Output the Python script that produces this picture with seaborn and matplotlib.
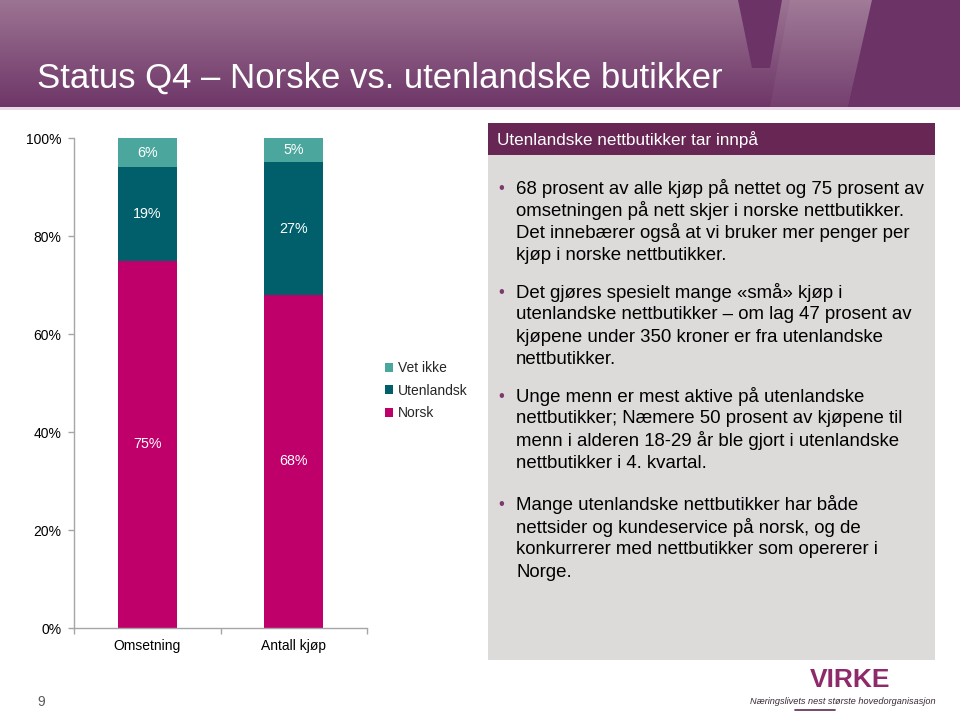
import matplotlib
matplotlib.use("Agg")
import matplotlib.pyplot as plt
import numpy as np
import pandas as pd
import seaborn as sns
from matplotlib.patches import Rectangle, Polygon

sns.set_theme(style="white")
plt.rcParams['font.family'] = ['Liberation Sans', 'DejaVu Sans']

# ---- data ----
categories = ["Omsetning", "Antall kjøp"]
norsk = [75, 68]
utenlandsk = [19, 27]
vet_ikke = [6, 5]
series_names = ["Norsk", "Utenlandsk", "Vet ikke"]
series_colors = ["#C0006A", "#005F6B", "#4BA79D"]
ytick_vals = [0, 20, 40, 60, 80, 100]
ytick_labels = ["0%", "20%", "40%", "60%", "80%", "100%"]

title = "Status Q4 – Norske vs. utenlandske butikker"
panel_title = "Utenlandske nettbutikker tar innpå"
bullets = [
    ["68 prosent av alle kjøp på nettet og 75 prosent av",
     "omsetningen på nett skjer i norske nettbutikker.",
     "Det innebærer også at vi bruker mer penger per",
     "kjøp i norske nettbutikker."],
    ["Det gjøres spesielt mange «små» kjøp i",
     "utenlandske nettbutikker – om lag 47 prosent av",
     "kjøpene under 350 kroner er fra utenlandske",
     "nettbutikker."],
    ["Unge menn er mest aktive på utenlandske",
     "nettbutikker; Næmere 50 prosent av kjøpene til",
     "menn i alderen 18-29 år ble gjort i utenlandske",
     "nettbutikker i 4. kvartal."],
    ["Mange utenlandske nettbutikker har både",
     "nettsider og kundeservice på norsk, og de",
     "konkurrerer med nettbutikker som opererer i",
     "Norge."],
]
bullet_top_y = [188, 292, 396, 505]

W, H = 960, 717
fig = plt.figure(figsize=(W / 100, H / 100), dpi=100)
fig.patch.set_facecolor("white")

# ---- background in pixel coords ----
bg = fig.add_axes([0, 0, 1, 1], zorder=0)
bg.set_xlim(0, W)
bg.set_ylim(H, 0)
bg.axis("off")

grad = np.linspace(0, 1, 256).reshape(-1, 1)
top_c = np.array([0x9C, 0x74, 0x93]) / 255
bot_c = np.array([0x6E, 0x36, 0x68]) / 255
img = top_c[None, None, :] * (1 - grad[..., None]) + bot_c[None, None, :] * grad[..., None]
bg.imshow(img, extent=(0, W, 107, 0), aspect="auto", zorder=1)
dark = "#6B3366"
bg.add_patch(Polygon([[738, 0], [782, 0], [770, 68], [752, 68]], closed=True,
                     facecolor=dark, edgecolor="none", zorder=2))
bg.add_patch(Polygon([[790, 0], [872, 0], [848, 107], [770, 107]], closed=True,
                     facecolor="white", alpha=0.05, edgecolor="none", zorder=2))
bg.add_patch(Polygon([[872, 0], [W, 0], [W, 107], [848, 107]], closed=True,
                     facecolor=dark, edgecolor="none", zorder=2))
bg.add_patch(Rectangle((0, 107), W, 2.5, facecolor="#E9DAE6", edgecolor="none", zorder=2))
bg.text(37, 78, title, color="white", fontsize=25, va="center", ha="left", zorder=3)

# right panel
bg.add_patch(Rectangle((488, 123), 447, 537, facecolor="#DDDADA", edgecolor="none", zorder=1))
bg.add_patch(Rectangle((488, 123), 447, 32, facecolor="#682654", edgecolor="none", zorder=2))
bg.text(497, 140, panel_title, color="white", fontsize=12.3, va="center", ha="left", zorder=3)
line_h = 22.5
for lines, y0 in zip(bullets, bullet_top_y):
    bg.text(501, y0, "•", color="#7A3A6E", fontsize=12, va="center", ha="center", zorder=3)
    for i, ln in enumerate(lines):
        bg.text(516, y0 + i * line_h, ln, color="black", fontsize=13.4,
                va="center", ha="left", zorder=3)

# footer
bg.text(41, 702, "9", color="#595959", fontsize=10, va="center", ha="center", zorder=3)
bg.text(850, 680, "VIRKE", color="#8E2A6A", fontsize=19, fontweight="bold",
        va="center", ha="center", zorder=3)
bg.text(843, 702, "Næringslivets nest største hovedorganisasjon", color="#3A2A35",
        fontsize=6.6, style="italic", va="center", ha="center", zorder=3)
bg.plot([795, 835], [710, 710], color="#5A2A50", lw=1.2, zorder=3)

# ---- chart ----
ax = fig.add_axes([74 / W, (H - 628) / H, 293 / W, 490 / H], zorder=2)
ax.patch.set_alpha(0)

df = pd.DataFrame({"kategori": categories, "Norsk": norsk,
                   "Utenlandsk": utenlandsk, "Vet ikke": vet_ikke})
df["c1"] = df["Norsk"]
df["c2"] = df["Norsk"] + df["Utenlandsk"]
df["c3"] = df["c2"] + df["Vet ikke"]

# stacked by overlaying cumulative totals (largest first)
for col, color, name in zip(["c3", "c2", "c1"], series_colors[::-1], series_names[::-1]):
    sns.barplot(data=df, x="kategori", y=col, color=color, width=0.4,
                saturation=1, ax=ax, label=name, edgecolor="none", linewidth=0)

# value labels
for i, row in df.iterrows():
    segs = [(0, row["Norsk"]), (row["c1"], row["Utenlandsk"]), (row["c2"], row["Vet ikke"])]
    for base, val in segs:
        ax.text(i, base + val / 2, f"{val}%", color="white", fontsize=10.3,
                ha="center", va="center")

ax.set_ylim(0, 100)
ax.set_xlim(-0.5, 1.5)
ax.set_yticks(ytick_vals)
ax.set_yticklabels(ytick_labels)
ax.set_xlabel("")
ax.set_ylabel("")
ax.set_xticks([0, 1])
ax.set_xticklabels(categories)
ax.tick_params(axis="x", length=0, pad=8, labelsize=10, labelcolor="black")
ax.tick_params(axis="y", length=4, width=1, color="#A6A6A6", pad=5,
               labelsize=10, labelcolor="black", left=True)
# category boundary ticks on x axis
ax.set_xticks([-0.5, 0.5, 1.5], minor=True)
ax.tick_params(axis="x", which="minor", length=4, width=1, color="#A6A6A6", bottom=True)
for s in ["top", "right"]:
    ax.spines[s].set_visible(False)
for s in ["left", "bottom"]:
    ax.spines[s].set_color("#A6A6A6")
    ax.spines[s].set_linewidth(1)

handles, labels = ax.get_legend_handles_labels()
leg = ax.legend(handles, labels, loc="upper left",
                bbox_to_anchor=((385 - 74) / 293, (628 - 361) / 490),
                frameon=False, fontsize=10, handlelength=0.6, handleheight=0.6,
                handletextpad=0.35, labelspacing=0.62, borderaxespad=0, borderpad=0)

fig.savefig("out.png", dpi=100)
